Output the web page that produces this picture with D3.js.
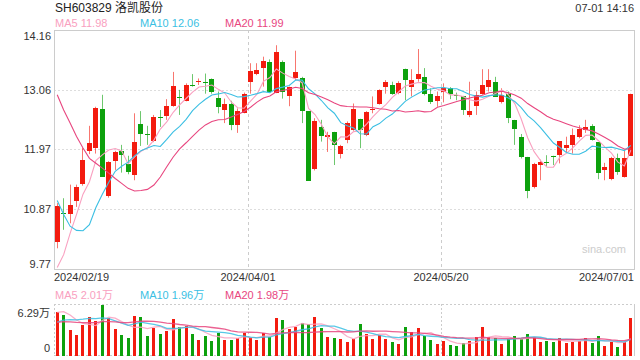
<!DOCTYPE html>
<html>
<head>
<meta charset="utf-8">
<script src="https://d3js.org/d3.v7.min.js"></script>
<style>
  body { margin:0; background:#fff; }
  svg text { font-family: "Liberation Sans", Arial, "Noto Sans CJK SC", sans-serif; }
</style>
</head>
<body>
<svg id="chart" width="640" height="360"></svg>
<script>
// trading days shown
var dates = [
  "2024/02/19","2024/02/20","2024/02/21","2024/02/22","2024/02/23","2024/02/26","2024/02/27","2024/02/28","2024/02/29",
  "2024/03/01","2024/03/04","2024/03/05","2024/03/06","2024/03/07","2024/03/08","2024/03/11","2024/03/12","2024/03/13",
  "2024/03/14","2024/03/15","2024/03/18","2024/03/19","2024/03/20","2024/03/21","2024/03/22","2024/03/25","2024/03/26",
  "2024/03/27","2024/03/28","2024/03/29",
  "2024/04/01","2024/04/02","2024/04/03","2024/04/08","2024/04/09","2024/04/10","2024/04/11","2024/04/12","2024/04/15",
  "2024/04/16","2024/04/17","2024/04/18","2024/04/19","2024/04/22","2024/04/23","2024/04/24","2024/04/25","2024/04/26",
  "2024/04/29","2024/04/30",
  "2024/05/06","2024/05/07","2024/05/08","2024/05/09","2024/05/10","2024/05/13","2024/05/14","2024/05/15","2024/05/16",
  "2024/05/17","2024/05/20","2024/05/21","2024/05/22","2024/05/23","2024/05/24","2024/05/27","2024/05/28","2024/05/29",
  "2024/05/30","2024/05/31",
  "2024/06/03","2024/06/04","2024/06/05","2024/06/06","2024/06/07","2024/06/11","2024/06/12","2024/06/13","2024/06/14",
  "2024/06/17","2024/06/18","2024/06/19","2024/06/20","2024/06/21","2024/06/24","2024/06/25","2024/06/26","2024/06/27",
  "2024/06/28","2024/07/01"
];

var open = [
  10.27,10.80,10.79,11.02,11.33,11.94,12.00,12.71,11.10,11.74,
  11.94,11.69,11.50,12.43,12.25,12.11,12.56,12.58,12.76,12.93,
  12.86,13.15,13.22,13.21,13.26,12.92,12.69,12.80,12.41,12.64,
  13.21,13.36,13.46,13.58,13.01,13.58,12.94,13.27,13.28,12.67,
  11.59,12.37,12.19,12.29,11.88,12.14,12.31,12.52,12.23,12.70,
  12.80,13.11,13.15,12.99,13.44,13.11,13.25,13.29,12.99,12.86,
  13.03,13.09,12.97,12.95,12.59,12.76,12.99,13.12,13.21,12.84,
  12.99,12.51,12.19,11.83,11.28,11.67,11.74,11.85,11.86,12.00,
  12.05,12.20,12.31,12.40,12.10,11.58,11.42,11.80,11.45,11.85
];
var close = [
  10.93,10.79,10.95,11.28,11.77,12.08,12.73,11.47,11.73,11.91,
  11.86,11.54,12.10,12.25,12.24,12.56,12.55,12.76,13.13,12.92,
  13.15,13.14,13.23,13.20,13.03,12.75,12.80,12.41,12.67,12.98,
  13.41,13.43,13.59,13.03,13.76,13.03,13.11,13.38,12.68,11.39,
  12.48,12.20,12.23,12.05,12.03,12.46,12.70,12.31,12.66,12.71,
  13.06,13.20,12.98,13.18,13.23,13.24,13.35,12.97,12.84,12.95,
  13.10,12.98,12.96,12.69,12.67,12.97,13.15,13.24,12.94,12.97,
  12.55,12.34,11.83,11.21,11.70,11.73,11.73,11.84,12.12,12.05,
  12.23,12.35,12.37,12.15,11.53,11.64,11.80,11.54,11.80,12.98
];
var high = [
  10.98,11.07,11.32,11.32,11.99,12.40,12.75,12.97,11.75,11.94,
  12.05,11.85,12.63,12.67,12.40,12.60,12.69,12.89,13.39,13.06,
  13.18,13.35,13.27,13.36,13.27,13.03,12.90,12.86,12.72,13.01,
  13.55,13.55,13.67,13.62,13.88,13.60,13.12,13.78,13.30,12.67,
  12.54,12.51,12.29,12.29,12.05,12.48,12.81,12.53,12.67,12.94,
  13.07,13.24,13.21,13.22,13.45,13.44,13.81,13.46,13.09,13.03,
  13.18,13.11,13.01,12.95,13.21,13.03,13.44,13.44,13.30,13.09,
  13.03,12.51,12.25,11.83,11.72,11.78,11.86,11.85,12.12,12.20,
  12.35,12.41,12.51,12.43,12.10,11.72,11.83,11.89,11.97,12.99
];
var low = [
  10.15,10.49,10.61,10.91,11.30,11.88,11.89,11.47,11.08,11.59,
  11.54,11.51,11.40,12.03,12.05,12.10,12.38,12.51,12.75,12.60,
  12.85,13.12,13.15,12.99,12.99,12.63,12.45,12.32,12.27,12.63,
  12.99,13.33,13.12,13.03,13.00,12.90,12.76,13.24,12.45,11.39,
  11.58,12.11,11.92,11.68,11.80,12.08,12.31,11.99,12.21,12.63,
  12.79,12.99,12.97,12.98,12.87,12.94,13.21,12.96,12.80,12.75,
  12.83,12.89,12.87,12.60,12.56,12.60,12.97,13.03,12.93,12.81,
  12.45,12.05,11.80,11.07,11.25,11.40,11.65,11.68,11.71,11.91,
  11.89,12.17,12.27,12.13,11.42,11.40,11.40,11.50,11.45,11.85
];
// volume in 万手
var volume = [
  5.37,5.03,3.14,2.52,3.77,4.74,4.32,6.29,4.61,3.23,
  2.52,2.10,4.91,4.74,2.39,3.35,2.64,3.02,4.49,3.56,
  3.65,2.64,1.89,2.39,1.76,2.81,1.89,1.89,2.10,2.81,
  2.22,1.89,2.81,2.22,4.61,4.40,3.27,3.56,3.98,3.86,
  4.74,3.44,2.31,2.18,2.01,1.68,2.01,3.90,2.64,1.97,
  2.52,2.01,1.64,1.38,3.52,2.85,3.40,2.43,1.89,1.38,
  1.76,1.26,1.13,1.47,1.76,2.22,3.52,2.31,2.18,1.38,
  2.01,2.39,2.01,2.64,2.22,1.68,1.76,1.68,2.10,1.55,
  1.68,1.76,2.10,1.55,2.39,1.17,1.68,1.05,1.59,4.70
];
// sessions before the window, estimated from where the MA lines start
var priorClose = [16.39,15.75,16.28,15.97,15.88,14.53,13.27,13.53,13.91,13.66,
                  13.34,13.10,12.05,11.84,10.96,9.60,9.00,9.53,9.92];
var priorVolume = [3.2,3.5,4.0,4.5,4.8,4.2,3.8,4.3,4.0,4.2,
                   2.5,2.6,2.8,3.0,3.7,4.63,5.24,5.67,5.94];

var maPeriods = [5, 10, 20];
var maColors = ["#f9a0c0", "#3bbfe3", "#e8467f"];
var maLegend = ["11.98", "12.06", "11.99"];
var volLegend = ["2.01万", "1.96万", "1.98万"];
var priceTicks = [14.16, 13.06, 11.97, 10.87, 9.77];
var volTicks = [6.29, 0];
var dateTicks = ["2024/02/19", "2024/04/01", "2024/05/20", "2024/07/01"];

var UP = "#f31b0f", DOWN = "#0da10d";

var svg = d3.select('#chart');
var pane = {l:54, r:634, t:30, b:269};
var vpane = {t:304, b:355};

var x = d3.scaleBand().domain(dates).range([pane.l, pane.r]).paddingInner(0.2).paddingOuter(0.1);
var y = d3.scaleLinear().domain([9.77, 14.16]).range([pane.b, pane.t]);
var yv = d3.scaleLinear().domain([0, 6.29]).range([vpane.b, vpane.t + 1]);

function cx(d) { return Math.round(x(d)) + 2.5; }

function movingAvg(prior, vals, n) {
  var all = prior.concat(vals);
  return vals.map(function(v, i) {
    var end = prior.length + i + 1;
    return d3.mean(all.slice(end - n, end));
  });
}

// header
svg.append('text').attr('x', 55).attr('y', 12).attr('font-size', 12).attr('fill', '#222')
  .text('SH603829 洛凯股份');
svg.append('text').attr('x', 634).attr('y', 12).attr('font-size', 11).attr('fill', '#333')
  .attr('text-anchor', 'end').text('07-01 14:16');

// legends
var legX = [55, 140, 225];
maPeriods.forEach(function(p, k) {
  svg.append('text').attr('x', legX[k]).attr('y', 27).attr('font-size', 11).attr('fill', maColors[k])
    .text('MA' + p + ' ' + maLegend[k]);
  svg.append('text').attr('x', legX[k]).attr('y', 299).attr('font-size', 11).attr('fill', maColors[k])
    .text('MA' + p + ' ' + volLegend[k]);
});

// grid
var grid = svg.append('g');
grid.selectAll('line.h').data(priceTicks.slice(1, -1)).enter().append('line')
  .attr('x1', pane.l).attr('x2', pane.r)
  .attr('y1', function(d){ return Math.round(y(d)) + 0.5; })
  .attr('y2', function(d){ return Math.round(y(d)) + 0.5; })
  .attr('stroke', '#ddd').attr('stroke-dasharray', '2,2');
grid.selectAll('line.v').data(dateTicks.slice(1, -1)).enter().append('line')
  .attr('x1', function(d){ return Math.round(x(d)) + 0.5; })
  .attr('x2', function(d){ return Math.round(x(d)) + 0.5; })
  .attr('y1', pane.t).attr('y2', pane.b)
  .attr('stroke', '#ccc').attr('stroke-dasharray', '3,3');
grid.selectAll('line.vv').data(dateTicks.slice(1, -1)).enter().append('line')
  .attr('x1', function(d){ return Math.round(x(d)) + 0.5; })
  .attr('x2', function(d){ return Math.round(x(d)) + 0.5; })
  .attr('y1', vpane.t).attr('y2', vpane.b)
  .attr('stroke', '#ccc').attr('stroke-dasharray', '2,2');

// frames
svg.append('rect').attr('x', pane.l + 0.5).attr('y', pane.t + 0.5)
  .attr('width', pane.r - pane.l).attr('height', pane.b - pane.t)
  .attr('fill', 'none').attr('stroke', '#ccc');
svg.append('line').attr('x1', pane.l).attr('x2', pane.r).attr('y1', vpane.t + 0.5).attr('y2', vpane.t + 0.5)
  .attr('stroke', '#ccc').attr('stroke-dasharray', '2,2');
svg.append('line').attr('x1', pane.l).attr('x2', pane.r).attr('y1', vpane.b + 0.5).attr('y2', vpane.b + 0.5)
  .attr('stroke', '#ccc').attr('stroke-dasharray', '2,2');
svg.append('line').attr('x1', pane.l + 0.5).attr('x2', pane.l + 0.5).attr('y1', vpane.t).attr('y2', vpane.b)
  .attr('stroke', '#ccc').attr('stroke-dasharray', '2,2');
svg.append('line').attr('x1', pane.r + 0.5).attr('x2', pane.r + 0.5).attr('y1', vpane.t).attr('y2', vpane.b + 1)
  .attr('stroke', '#ccc');

// axes
var yAxis = svg.append('g').attr('transform', 'translate(' + pane.l + ',0)')
  .call(d3.axisLeft(y).tickValues(priceTicks).tickSize(0).tickPadding(3).tickFormat(d3.format('.2f')));
yAxis.select('.domain').remove();
yAxis.selectAll('text').attr('font-size', 11).attr('fill', '#333').attr('font-family', null)
  .attr('dy', function(d){ return d === 14.16 ? '0.85em' : (d === 9.77 ? '-0.15em' : '0.32em'); });

var vAxis = svg.append('g').attr('transform', 'translate(' + pane.l + ',0)')
  .call(d3.axisLeft(yv).tickValues(volTicks).tickSize(0).tickPadding(4)
    .tickFormat(function(d){ return d === 0 ? '0' : d + '万'; }));
vAxis.select('.domain').remove();
vAxis.selectAll('text').attr('font-size', 11).attr('fill', '#333').attr('font-family', null)
  .attr('dy', function(d){ return d === 0 ? '-0.3em' : '1.0em'; });

svg.selectAll('text.date').data(dateTicks).enter().append('text')
  .attr('class', 'date')
  .attr('x', function(d, i){ return i === 0 ? pane.l : (i === dateTicks.length - 1 ? pane.r : Math.round(x(d))); })
  .attr('y', 281).attr('font-size', 11).attr('fill', '#333')
  .attr('text-anchor', function(d, i){ return i === 0 ? 'start' : (i === dateTicks.length - 1 ? 'end' : 'middle'); })
  .text(function(d){ return d; });

svg.append('text').attr('x', 582).attr('y', 253).attr('font-size', 11).attr('fill', '#ccc').text('sina.com');

// candles
var candles = svg.append('g').selectAll('g').data(dates).enter().append('g');
candles.append('line')
  .attr('x1', cx).attr('x2', cx)
  .attr('y1', function(d, i){ return y(high[i]); })
  .attr('y2', function(d, i){ return y(low[i]); })
  .attr('stroke', function(d, i){ return close[i] >= open[i] ? UP : DOWN; })
  .attr('stroke-opacity', 0.6);
candles.append('rect')
  .attr('x', function(d){ return Math.round(x(d)); })
  .attr('width', 5)
  .attr('y', function(d, i){ return Math.round(y(Math.max(open[i], close[i]))); })
  .attr('height', function(d, i){ return Math.max(1, Math.round(Math.abs(y(open[i]) - y(close[i])))); })
  .attr('fill', function(d, i){ return close[i] >= open[i] ? UP : DOWN; });

// volume bars
svg.append('g').selectAll('rect').data(dates).enter().append('rect')
  .attr('x', function(d){ return Math.round(x(d)) + 1; })
  .attr('width', 3)
  .attr('y', function(d, i){ return Math.round(yv(volume[i])); })
  .attr('height', function(d, i){ return vpane.b + 1 - Math.round(yv(volume[i])); })
  .attr('fill', function(d, i){ return close[i] >= open[i] ? UP : DOWN; });

// moving averages
var xc = function(d, i){ return x(dates[i]) + x.bandwidth() / 2; };
maPeriods.forEach(function(p, k) {
  var ma = movingAvg(priorClose, close, p);
  svg.append('path').datum(ma)
    .attr('d', d3.line().x(xc).y(function(d){ return y(d); }))
    .attr('fill', 'none').attr('stroke', maColors[k]).attr('stroke-width', 1.1);
  var vma = movingAvg(priorVolume, volume, p);
  svg.append('path').datum(vma)
    .attr('d', d3.line().x(xc).y(function(d){ return yv(d); }))
    .attr('fill', 'none').attr('stroke', maColors[k]).attr('stroke-width', 1.3).attr('stroke-opacity', 0.85);
});
</script>
</body>
</html>
